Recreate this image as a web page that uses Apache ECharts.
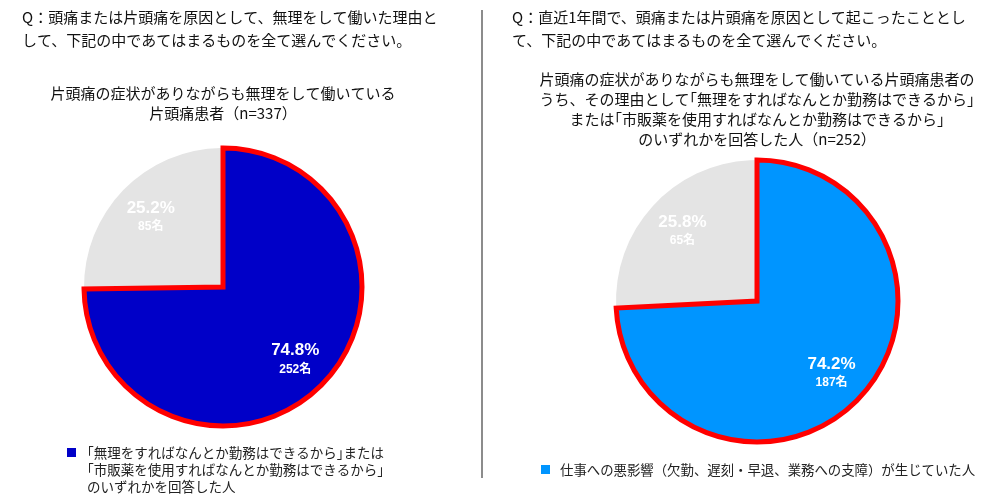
<!DOCTYPE html>
<html>
<head>
<meta charset="utf-8">
<script src="https://cdn.jsdelivr.net/npm/echarts@6/dist/echarts.min.js"></script>
<style>
html,body{margin:0;padding:0;background:#fff;}
#c{width:1000px;height:502px;}
</style>
</head>
<body>
<div id="c"></div>
<script>
// ---- data ----
const leftNames = ['｢無理をすればなんとか勤務はできるから｣または\n｢市販薬を使用すればなんとか勤務はできるから｣\nのいずれかを回答した人', 'それ以外'];
const leftCounts = [252, 85];
const leftPercents = [74.8, 25.2];
const rightNames = ['仕事への悪影響（欠勤、遅刻・早退、業務への支障）が生じていた人', 'それ以外'];
const rightCounts = [187, 65];
const rightPercents = [74.2, 25.8];
const leftQuestion = 'Q：頭痛または片頭痛を原因として、無理をして働いた理由と\nして、下記の中であてはまるものを全て選んでください。';
const rightQuestion = 'Q：直近1年間で、頭痛または片頭痛を原因として起こったこととし\nて、下記の中であてはまるものを全て選んでください。';
const leftSubtitle = '片頭痛の症状がありながらも無理をして働いている\n片頭痛患者（n=337）';
const rightSubtitle = '片頭痛の症状がありながらも無理をして働いている片頭痛患者の\nうち、その理由として｢無理をすればなんとか勤務はできるから｣\nまたは｢市販薬を使用すればなんとか勤務はできるから｣\nのいずれかを回答した人（n=252）';

const FONT = '"Noto Sans CJK JP", "Noto Sans", sans-serif';
const NUMFONT = '"Liberation Sans", Arial, "Noto Sans CJK JP", sans-serif';
const GRAY = '#e4e4e4';

function makePie(names, counts, pcts, center, radius, mainColor) {
  const k = 1.4;
  const base = {
    type: 'pie',
    center: center,
    radius: radius,
    startAngle: 90,
    clockwise: true,
    avoidLabelOverlap: false,
    animation: false,
    silent: true,
    labelLine: { show: false }
  };
  const fillSeries = Object.assign({}, base, {
    z: 2,
    label: { show: false },
    data: names.map((n, i) => ({
      name: n, value: counts[i],
      itemStyle: { color: i === 0 ? mainColor : GRAY, borderWidth: 0 }
    }))
  });
  const overlaySeries = Object.assign({}, base, {
    z: 3,
    label: {
      show: true,
      position: 'inside',
      formatter: p => '{p|' + pcts[p.dataIndex].toFixed(1) + '%}\n{n|' + counts[p.dataIndex] + '名}',
      rich: {
        p: { fontSize: 17, fontWeight: 'bold', color: '#fff', lineHeight: 22, fontFamily: NUMFONT },
        n: { fontSize: 12, fontWeight: 'bold', color: '#fff', lineHeight: 16, fontFamily: NUMFONT }
      }
    },
    labelLayout: function (p) {
      const lx = p.labelRect.x + p.labelRect.width / 2;
      const ly = p.labelRect.y + p.labelRect.height / 2;
      return { dx: (lx - center[0]) * (k - 1), dy: (ly - center[1]) * (k - 1) };
    },
    data: names.map((n, i) => ({
      name: n, value: counts[i],
      itemStyle: i === 0
        ? { color: mainColor, borderColor: '#ff0000', borderWidth: 5, borderJoin: 'miter' }
        : { color: 'rgba(0,0,0,0)', borderWidth: 0 }
    }))
  });
  return [fillSeries, overlaySeries];
}

const LEFT_BLUE = '#0000c8';
const RIGHT_BLUE = '#0095ff';
// square at the top-left of a larger icon box so the marker sits beside the first text line
const TOP_SQUARE = 'path://M0,0L9,0L9,9L0,9Z M15,43L15.01,43L15.01,43.01L15,43.01Z';

const option = {
  backgroundColor: '#fff',
  animation: false,
  legend: [
    {
      left: 67, top: 444, padding: 0,
      itemWidth: 15, itemHeight: 43, icon: TOP_SQUARE,
      selectedMode: false,
      data: [{ name: leftNames[0], itemStyle: { color: LEFT_BLUE, borderWidth: 0 } }],
      textStyle: { fontSize: 13.5, lineHeight: 17, color: '#222', fontFamily: FONT }
    },
    {
      left: 541, top: 461, padding: 0,
      itemWidth: 9, itemHeight: 9, icon: 'rect',
      selectedMode: false,
      data: [{ name: rightNames[0], itemStyle: { color: RIGHT_BLUE, borderWidth: 0 } }],
      textStyle: { fontSize: 13.4, lineHeight: 17, color: '#222', fontFamily: FONT, padding: [0, 0, 0, 5] }
    }
  ],
  graphic: [
    { type: 'line', shape: { x1: 482, y1: 10, x2: 482, y2: 478 }, style: { stroke: '#666', lineWidth: 1.5 }, silent: true },
    { type: 'text', style: { x: 22, y: 29, text: leftQuestion, font: '15px ' + FONT, fill: '#111', lineHeight: 23, verticalAlign: 'middle', align: 'left' } },
    { type: 'text', style: { x: 512, y: 29, text: rightQuestion, font: '15px ' + FONT, fill: '#111', lineHeight: 23, verticalAlign: 'middle', align: 'left' } },
    { type: 'text', style: { x: 223, y: 103, text: leftSubtitle, font: '15px ' + FONT, fill: '#111', lineHeight: 20, verticalAlign: 'middle', align: 'center' } },
    { type: 'text', style: { x: 757, y: 109, text: rightSubtitle, font: '15px ' + FONT, fill: '#111', lineHeight: 20, verticalAlign: 'middle', align: 'center' } }
  ],
  series: [].concat(
    makePie(leftNames, leftCounts, leftPercents, [223, 287], 139, LEFT_BLUE),
    makePie(rightNames, rightCounts, rightPercents, [757, 301], 141, RIGHT_BLUE)
  )
};

const chart = echarts.init(document.getElementById('c'), null, { renderer: 'canvas' });
chart.setOption(option);
</script>
</body>
</html>
